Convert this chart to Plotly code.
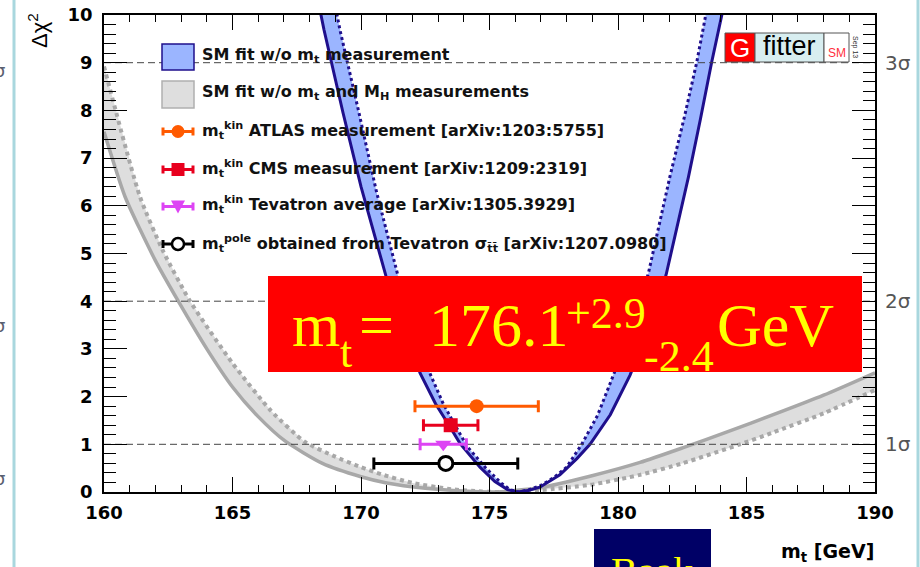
import plotly.graph_objects as go

# ---------------- data ----------------
X_RANGE = [160, 190]
Y_RANGE = [0, 10]
x_tick_vals = [160, 165, 170, 175, 180, 185, 190]
y_tick_vals = [0, 1, 2, 3, 4, 5, 6, 7, 8, 9, 10]
sigma_levels = [1, 4, 9]
sigma_text = ["1σ", "2σ", "3σ"]

# SM fit w/o m_t measurement (blue band): solid and dotted edges
blue_solid_mt = [168.33, 168.56, 169.3, 170.0, 170.97, 171.6, 172.3, 172.9, 173.4, 173.85,
                 174.63, 175.21, 175.7, 176.1, 176.5, 176.96, 177.74, 178.4, 178.91, 179.7,
                 180.47, 181.2, 181.87, 182.74, 183.2, 183.64, 184.04, 184.15]
blue_solid_dchi2 = [10.3, 9.69, 7.95, 6.4, 4.53, 3.5, 2.49, 1.85, 1.42, 1.02,
                    0.52, 0.22, 0.05, 0.0, 0.03, 0.1, 0.36, 0.7, 1.0, 1.62,
                    2.45, 3.45, 4.55, 6.6, 7.8, 9.0, 10.0, 10.3]
blue_dot_mt = [168.92, 169.06, 169.18, 169.9, 170.6, 171.44, 172.0, 172.68, 173.2, 173.66,
               174.14, 174.86, 175.47, 175.8, 176.1, 176.5, 177.0, 177.5, 178.0, 178.59,
               179.2, 179.85, 180.5, 181.18, 182.02, 182.6, 183.06, 183.38, 183.5]
blue_dot_dchi2 = [10.4, 10.0, 9.69, 8.0, 6.3, 4.53, 3.55, 2.49, 1.85, 1.4,
                  0.95, 0.5, 0.18, 0.05, 0.0, 0.04, 0.14, 0.3, 0.52, 1.0,
                  1.6, 2.49, 3.4, 4.58, 6.61, 7.9, 9.0, 9.9, 10.3]

# SM fit w/o m_t and M_H measurements (gray band)
gray_solid_mt = [160.0, 160.82, 162.0, 162.89, 164.0, 165.0, 166.0, 167.04, 168.5, 170.0,
                 171.0, 172.5, 174.0, 175.2, 176.96, 178.91, 180.86, 182.54, 184.3, 186.04,
                 188.0, 190.0]
gray_solid_dchi2 = [7.55, 6.19, 4.85, 4.0, 3.0, 2.2, 1.58, 1.07, 0.6, 0.32,
                    0.19, 0.08, 0.02, 0.0, 0.09, 0.33, 0.62, 0.93, 1.27, 1.62,
                    2.03, 2.5]
gray_dot_mt = [160.0, 161.4, 162.3, 163.35, 165.0, 166.5, 167.82, 169.0, 170.0, 170.8,
               172.0, 173.5, 174.7, 175.7, 177.0, 178.91, 180.86, 182.5, 184.75, 186.04,
               188.0, 190.0]
gray_dot_dchi2 = [8.92, 6.19, 5.05, 4.0, 2.7, 1.7, 1.05, 0.74, 0.52, 0.37,
                  0.19, 0.06, 0.01, 0.0, 0.04, 0.15, 0.36, 0.6, 1.0, 1.25,
                  1.65, 2.14]

# measurements
meas_mt = [174.5, 173.49, 173.2, 173.3]
meas_err = [2.4, 1.06, 0.9, 2.8]
meas_y = [1.8, 1.4, 1.0, 0.6]
meas_color = ["#ff5a00", "#e8001e", "#dd44f4", "#000000"]
meas_symbol = ["circle", "square", "triangle-down", "circle"]
meas_fill = ["#ff5a00", "#e8001e", "#dd44f4", "#ffffff"]

legend_text = [
    "SM fit w/o m<sub>t</sub> measurement",
    "SM fit w/o m<sub>t</sub> and M<sub>H</sub> measurements",
    "m<sub>t</sub><sup>kin</sup> ATLAS measurement [arXiv:1203:5755]",
    "m<sub>t</sub><sup>kin</sup> CMS measurement [arXiv:1209:2319]",
    "m<sub>t</sub><sup>kin</sup> Tevatron average [arXiv:1305.3929]",
    "m<sub>t</sub><sup>pole</sup> obtained from Tevatron σ<sub>t\u0304t\u0304</sub> [arXiv:1207.0980]",
]

# ---------------- layout helpers (pixel -> paper) ----------------
W, H = 920, 567
L, R, T, B = 104, 875, 15, 492
PW, PH = R - L, B - T


def px(v):
    return (v - L) / PW


def py(v):
    return (B - v) / PH


NAVY = "#1f0f8c"
BLUE_FILL = "#9bb5ff"
GRAY_LINE = "#a8a8a8"
GRAY_FILL = "#dedede"

fig = go.Figure()

# gray band
fig.add_trace(go.Scatter(x=gray_solid_mt + gray_dot_mt[::-1],
                         y=gray_solid_dchi2 + gray_dot_dchi2[::-1],
                         fill="toself", fillcolor=GRAY_FILL, mode="lines",
                         line=dict(width=0), hoverinfo="skip"))
fig.add_trace(go.Scatter(x=gray_solid_mt, y=gray_solid_dchi2, mode="lines",
                         line=dict(color=GRAY_LINE, width=3.5, shape="spline", smoothing=0.6),
                         hoverinfo="skip"))
fig.add_trace(go.Scatter(x=gray_dot_mt, y=gray_dot_dchi2, mode="lines",
                         line=dict(color=GRAY_LINE, width=4, dash="dot", shape="spline", smoothing=0.6),
                         hoverinfo="skip"))

# blue band
fig.add_trace(go.Scatter(x=blue_solid_mt + blue_dot_mt[::-1],
                         y=blue_solid_dchi2 + blue_dot_dchi2[::-1],
                         fill="toself", fillcolor=BLUE_FILL, mode="lines",
                         line=dict(width=0), hoverinfo="skip"))
fig.add_trace(go.Scatter(x=blue_solid_mt, y=blue_solid_dchi2, mode="lines",
                         line=dict(color=NAVY, width=3), hoverinfo="skip"))
fig.add_trace(go.Scatter(x=blue_dot_mt, y=blue_dot_dchi2, mode="lines",
                         line=dict(color=NAVY, width=3, dash="dot"), hoverinfo="skip"))

# sigma reference lines
for lv in sigma_levels:
    fig.add_trace(go.Scatter(x=X_RANGE, y=[lv, lv], mode="lines",
                             line=dict(color="#444444", width=1, dash="7px,4px"),
                             hoverinfo="skip"))

# measurements
for i in range(len(meas_mt)):
    fig.add_trace(go.Scatter(
        x=[meas_mt[i]], y=[meas_y[i]], mode="markers",
        marker=dict(symbol=meas_symbol[i], size=14, color=meas_fill[i],
                    line=dict(color=meas_color[i], width=3 if i == 3 else 0)),
        error_x=dict(type="data", array=[meas_err[i]], color=meas_color[i],
                     thickness=3, width=6),
        hoverinfo="skip"))

tickfont = dict(family="DejaVu Sans", size=18, color="black", weight="bold")
fig.update_layout(
    width=W, height=H,
    margin=dict(l=L, r=W - R, t=T, b=H - B, pad=0, autoexpand=False),
    paper_bgcolor="white", plot_bgcolor="white", showlegend=False,
    xaxis=dict(range=X_RANGE, tickmode="array", tickvals=x_tick_vals,
               ticks="inside", ticklen=15, tickwidth=1, tickcolor="black",
               minor=dict(dtick=1, tick0=160, ticks="inside", ticklen=7,
                          tickwidth=1, tickcolor="black"),
               showline=True, linecolor="black", linewidth=1.5, mirror="ticks",
               showgrid=False, zeroline=False, tickfont=tickfont,
               ticklabelstandoff=4, automargin=False),
    yaxis=dict(range=Y_RANGE, tickmode="array", tickvals=y_tick_vals,
               ticks="inside", ticklen=23, tickwidth=1, tickcolor="black",
               minor=dict(dtick=0.2, tick0=0, ticks="inside", ticklen=12,
                          tickwidth=1, tickcolor="black"),
               showline=True, linecolor="black", linewidth=1.5, mirror="ticks",
               showgrid=False, zeroline=False, tickfont=tickfont,
               ticklabelstandoff=6, automargin=False),
)

shapes = []
annos = []


def txt(s, x, y, size, color="black", family="DejaVu Sans", weight="normal",
        xanchor="left", yanchor="middle", angle=0):
    annos.append(dict(text=s, x=px(x), y=py(y), xref="paper", yref="paper",
                      showarrow=False, xanchor=xanchor, yanchor=yanchor,
                      textangle=angle, borderpad=0,
                      font=dict(family=family, size=size, color=color, weight=weight)))


# slide decorations: light blue vertical rules
for xv in (14, 918):
    shapes.append(dict(type="line", xref="paper", yref="paper",
                       x0=px(xv), x1=px(xv), y0=py(0), y1=py(567),
                       line=dict(color="#a9d7de", width=3)))
for yv in (70, 325, 478):
    txt("σ", 6, yv, 18, color="#5a6070", xanchor="right")

# sigma labels on the right
for lv, lab in zip(sigma_levels, sigma_text):
    annos.append(dict(text=lab, x=px(883), y=lv, xref="paper", yref="y",
                      showarrow=False, xanchor="left", yanchor="middle",
                      font=dict(family="DejaVu Sans", size=20, color="#555555")))

# axis titles
txt("Δχ<sup>2</sup>", 38, 31, 22, family="Liberation Sans", xanchor="center", angle=-90)
txt("m<sub>t</sub> [GeV]", 875, 552, 19, weight="bold", xanchor="right")

# legend
rows = [57, 94.5, 131.5, 169.5, 206.5, 244]
shapes.append(dict(type="rect", xref="paper", yref="paper", x0=px(162), x1=px(194),
                   y0=py(70), y1=py(44), fillcolor=BLUE_FILL, line=dict(color=NAVY, width=1.5)))
shapes.append(dict(type="rect", xref="paper", yref="paper", x0=px(162), x1=px(194),
                   y0=py(108), y1=py(81), fillcolor=GRAY_FILL, line=dict(color="#b0b0b0", width=1.5)))
for k in range(4):
    yc = rows[2 + k]
    c = meas_color[k]
    shapes.append(dict(type="line", xref="paper", yref="paper", x0=px(162), x1=px(194),
                       y0=py(yc), y1=py(yc), line=dict(color=c, width=3)))
    for xe in (163, 193):
        shapes.append(dict(type="line", xref="paper", yref="paper", x0=px(xe), x1=px(xe),
                           y0=py(yc - 4), y1=py(yc + 4), line=dict(color=c, width=3)))
    if k == 0:
        shapes.append(dict(type="circle", xref="paper", yref="paper", x0=px(171.5), x1=px(184.5),
                           y0=py(yc + 6.5), y1=py(yc - 6.5), fillcolor=c, line=dict(width=0)))
    elif k == 1:
        shapes.append(dict(type="rect", xref="paper", yref="paper", x0=px(171.5), x1=px(184.5),
                           y0=py(yc + 6.5), y1=py(yc - 6.5), fillcolor=c, line=dict(width=0)))
    elif k == 2:
        shapes.append(dict(type="path", xref="paper", yref="paper",
                           path="M %f,%f L %f,%f L %f,%f Z" % (px(171), py(yc - 6), px(185), py(yc - 6),
                                                              px(178), py(yc + 7)),
                           fillcolor=c, line=dict(width=0)))
    else:
        shapes.append(dict(type="circle", xref="paper", yref="paper", x0=px(172), x1=px(184),
                           y0=py(yc + 6), y1=py(yc - 6), fillcolor="white",
                           line=dict(color="black", width=2.5)))
for yc, s in zip([55, 93, 130, 168, 205, 243], legend_text):
    txt(s, 201, yc, 16, color="#111111", weight="bold")

# Gfitter logo
shapes.append(dict(type="rect", xref="paper", yref="paper", x0=px(725), x1=px(755),
                   y0=py(62), y1=py(33), fillcolor="#ff0000", line=dict(color="#555555", width=1)))
shapes.append(dict(type="rect", xref="paper", yref="paper", x0=px(755), x1=px(824),
                   y0=py(62), y1=py(33), fillcolor="#d8eef0", line=dict(color="#555555", width=1)))
shapes.append(dict(type="rect", xref="paper", yref="paper", x0=px(824), x1=px(849),
                   y0=py(62), y1=py(33), fillcolor="#ffffff", line=dict(color="#555555", width=1)))
txt("G", 740, 47.5, 26, color="white", family="Liberation Sans", xanchor="center")
txt("fitter", 789.5, 46.5, 27, color="black", family="Liberation Sans", xanchor="center")
txt("SM", 836.5, 53, 12, color="#ff3040", family="Liberation Sans", xanchor="center")
txt("Sep 13", 855, 47, 7, color="#333333", family="Liberation Sans", xanchor="center", angle=90)

# result box
shapes.append(dict(type="rect", xref="paper", yref="paper", x0=px(268), x1=px(862),
                   y0=py(372), y1=py(276), fillcolor="#ff0000", line=dict(width=0), layer="above"))
SERIF = "Liberation Serif"
Y_MAIN = 325
txt("m", 291, Y_MAIN, 62, color="#ffff00", family=SERIF)
txt("t", 339, Y_MAIN + 27, 44, color="#ffff00", family=SERIF)
txt("=", 358, Y_MAIN, 62, color="#ffff00", family=SERIF)
txt("176.1", 428, Y_MAIN, 62, color="#ffff00", family=SERIF)
txt("+2.9", 565, Y_MAIN - 12, 44, color="#ffff00", family=SERIF)
txt("-2.4", 643, Y_MAIN + 31, 44, color="#ffff00", family=SERIF)
txt("GeV", 716, Y_MAIN, 62, color="#ffff00", family=SERIF)

# author box at bottom
shapes.append(dict(type="rect", xref="paper", yref="paper", x0=px(594), x1=px(711),
                   y0=py(600), y1=py(529), fillcolor="#000066", line=dict(width=0)))
txt("Baak", 610, 548, 40, color="#ffff00", family=SERIF, yanchor="top")

fig.update_layout(shapes=shapes, annotations=annos)
fig.write_html("out.html")
